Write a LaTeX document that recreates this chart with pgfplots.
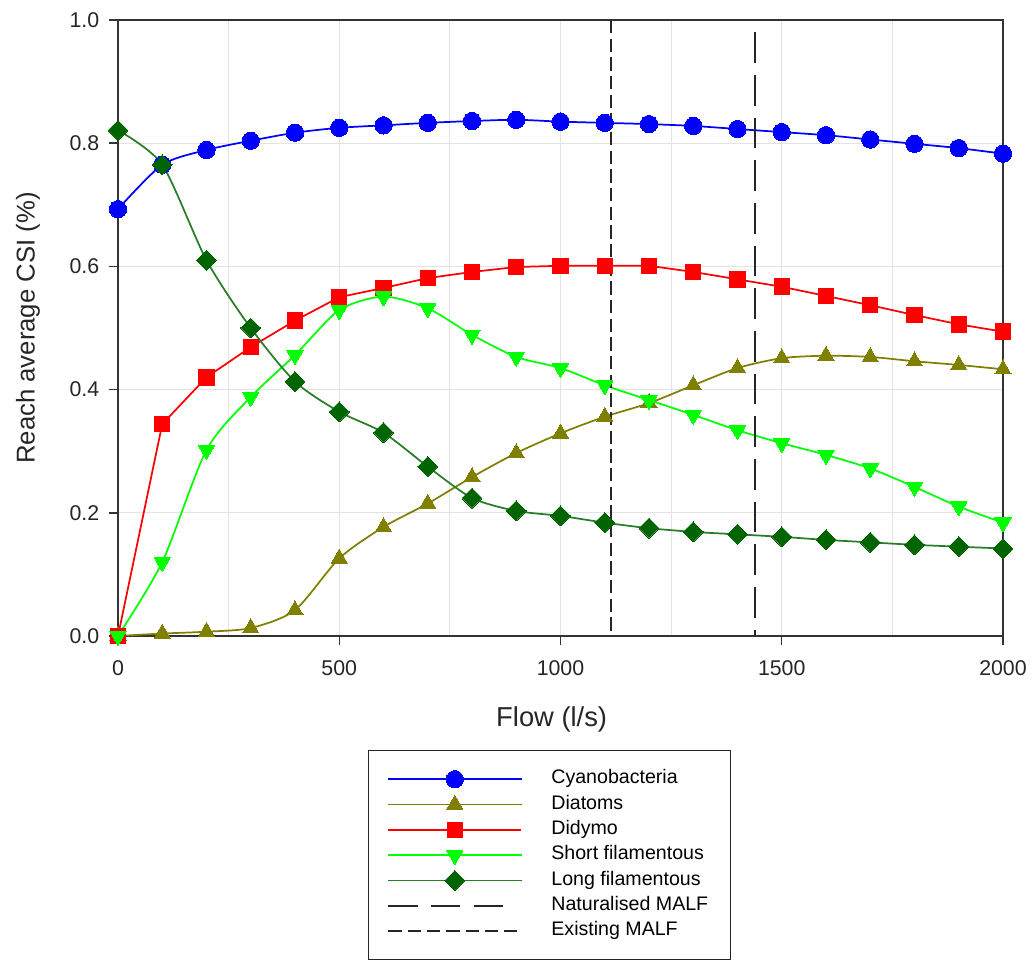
\documentclass[border=0pt]{standalone}
\usepackage{pgfplots}
\pgfplotsset{compat=1.18}
\usepackage{fontspec}
\setmainfont{Liberation Sans}
\definecolor{cyanob}{RGB}{0,0,255}
\definecolor{diat}{RGB}{128,128,0}
\definecolor{didy}{RGB}{255,0,0}
\definecolor{shortf}{RGB}{0,255,0}
\definecolor{longf}{RGB}{0,100,0}
\definecolor{longline}{RGB}{40,125,40}
\begin{document}
\begin{tikzpicture}
\useasboundingbox (-88.5pt,-243pt) rectangle (688.5pt,477pt);
\begin{axis}[
  at={(0,0)}, anchor=south west,
  width=663.75pt, height=462pt, scale only axis,
  xmin=0, xmax=2000, ymin=0, ymax=1,
  clip=false,
  xtick={0,500,1000,1500,2000},
  minor xtick={250,750,1250,1750},
  ytick={0,0.2,0.4,0.6,0.8,1},
  grid=both,
  major grid style={gray!22, line width=0.6pt},
  minor grid style={gray!22, line width=0.6pt},
  axis line style={black!80, line width=1.1pt},
  tick style={black!80, line width=1.1pt},
  tick align=outside,
  major tick length=7pt, minor tick length=0pt,
  xtick pos=bottom, ytick pos=left,
  /pgf/number format/assume math mode=true,
  tick label style={font=\fontsize{16}{19}\selectfont, black!85},
  xticklabel style={yshift=-8pt, /pgf/number format/1000 sep={}},
  yticklabel style={xshift=-3.5pt, /pgf/number format/.cd, fixed, fixed zerofill, precision=1},
  xlabel={Flow (l/s)},
  ylabel={Reach average CSI (\%)},
  xlabel style={font=\fontsize{20.5}{24}\selectfont, black!85, at={(axis description cs:0.49,-0.136)}, anchor=center},
  ylabel style={font=\fontsize{19.3}{23}\selectfont, black!85, at={(axis description cs:-0.1017,0.5)}, anchor=center, rotate=0},
  legend style={at={(axis description cs:0.488,-0.185)}, anchor=north,
    draw=black!85, line width=0.8pt, fill=white,
    font=\fontsize{14.7}{17}\selectfont,
    inner xsep=14pt, inner ysep=12pt,
    nodes={text height=10.5pt, text depth=3.5pt, inner ysep=2.5pt, inner xsep=3pt},
    /tikz/every odd column/.append style={column sep=19pt},
  },
  legend cell align=left,
  every axis plot/.append style={line width=1.3pt, smooth, tension=0.45},
]
\addplot[cyanob, mark=*, mark size=6.5pt, mark options={fill=cyanob, draw=cyanob, line width=0pt},
  legend image code/.code={\draw[mark repeat=2, mark phase=2] plot coordinates {(0cm,0cm)(1.75cm,0cm)(3.5cm,0cm)};}]
coordinates {(0,0.693)(100,0.765)(200,0.789)(300,0.804)(400,0.817)(500,0.825)(600,0.829)(700,0.833)(800,0.836)(900,0.838)(1000,0.835)(1100,0.833)(1200,0.831)(1300,0.828)(1400,0.823)(1500,0.818)(1600,0.813)(1700,0.806)(1800,0.799)(1900,0.792)(2000,0.783)};
\addlegendentry{Cyanobacteria}
\addplot[diat, mark=triangle*, mark size=7pt, mark options={fill=diat, draw=diat, line width=0pt},
  legend image code/.code={\draw[mark repeat=2, mark phase=2] plot coordinates {(0cm,0cm)(1.75cm,0cm)(3.5cm,0cm)};}]
coordinates {(0,0)(100,0.004)(200,0.007)(300,0.013)(400,0.042)(500,0.126)(600,0.177)(700,0.215)(800,0.258)(900,0.297)(1000,0.329)(1100,0.356)(1200,0.378)(1300,0.407)(1400,0.435)(1500,0.451)(1600,0.455)(1700,0.453)(1800,0.446)(1900,0.440)(2000,0.433)};
\addlegendentry{Diatoms}
\addplot[didy, sharp plot, mark=square*, mark size=5.8pt, mark options={fill=didy, draw=didy, line width=0pt},
  legend image code/.code={\draw[mark repeat=2, mark phase=2] plot coordinates {(0cm,0cm)(1.75cm,0cm)(3.5cm,0cm)};}]
coordinates {(0,0)(100,0.344)(200,0.420)(300,0.469)(400,0.512)(500,0.550)(600,0.565)(700,0.581)(800,0.591)(900,0.599)(1000,0.601)(1100,0.601)(1200,0.601)(1300,0.591)(1400,0.579)(1500,0.567)(1600,0.552)(1700,0.537)(1800,0.521)(1900,0.506)(2000,0.494)};
\addlegendentry{Didymo}
\addplot[shortf, mark=triangle*, mark size=7pt, mark options={fill=shortf, draw=shortf, line width=0pt, rotate=180},
  legend image code/.code={\draw[mark repeat=2, mark phase=2] plot coordinates {(0cm,0cm)(1.75cm,0cm)(3.5cm,0cm)};}]
coordinates {(0,0)(100,0.120)(200,0.302)(300,0.388)(400,0.456)(500,0.529)(600,0.551)(700,0.532)(800,0.489)(900,0.453)(1000,0.435)(1100,0.407)(1200,0.383)(1300,0.359)(1400,0.334)(1500,0.313)(1600,0.294)(1700,0.272)(1800,0.242)(1900,0.210)(2000,0.184)};
\addlegendentry{Short filamentous}
\addplot[longline, mark=square*, mark size=5.3pt, mark options={fill=longf, draw=longf, line width=0pt, rotate=45},
  legend image code/.code={\draw[mark repeat=2, mark phase=2] plot coordinates {(0cm,0cm)(1.75cm,0cm)(3.5cm,0cm)};}]
coordinates {(0,0.821)(100,0.765)(200,0.610)(300,0.500)(400,0.413)(500,0.364)(600,0.330)(700,0.275)(800,0.224)(900,0.203)(1000,0.195)(1100,0.184)(1200,0.175)(1300,0.169)(1400,0.165)(1500,0.161)(1600,0.156)(1700,0.152)(1800,0.148)(1900,0.145)(2000,0.142)};
\addlegendentry{Long filamentous}
\addplot[black!85, line width=1.1pt, sharp plot, dash pattern=on 23pt off 9pt,
  legend image code/.code={\draw[line width=1.1pt, dash pattern=on 22pt off 10pt] (0cm,0cm) -- (3.3cm,0cm);}]
coordinates {(1440,0.98)(1440,0)};
\addlegendentry{Naturalised MALF}
\addplot[black!85, line width=1.1pt, sharp plot, dash pattern=on 10pt off 4pt,
  legend image code/.code={\draw[line width=1.1pt, dash pattern=on 10pt off 4.5pt] (0cm,0cm) -- (3.4cm,0cm);}]
coordinates {(1114,1)(1114,0)};
\addlegendentry{Existing MALF}
\end{axis}
\end{tikzpicture}
\end{document}
